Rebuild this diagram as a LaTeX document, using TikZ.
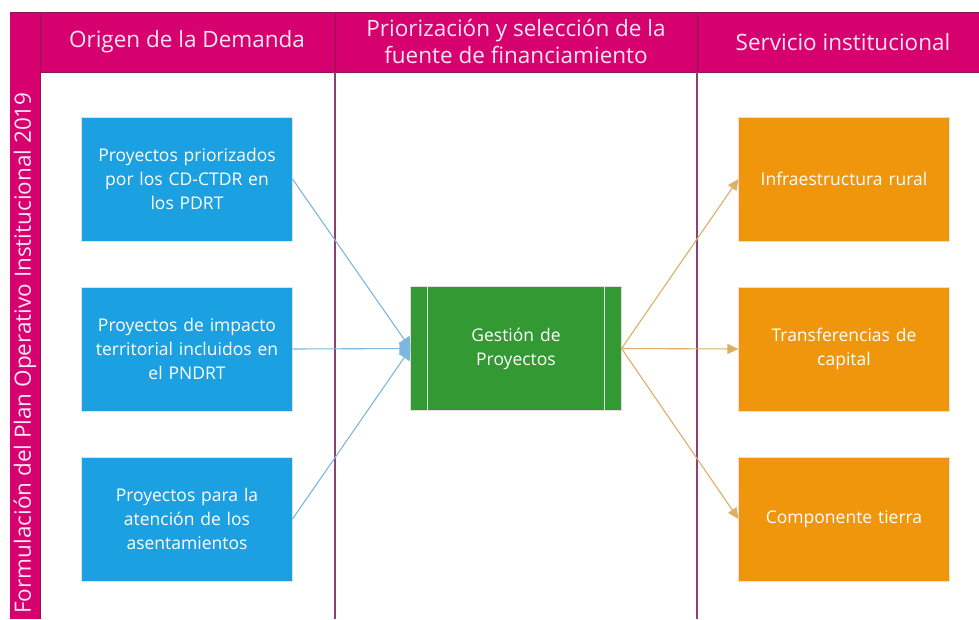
\documentclass[tikz,border=0pt]{standalone}
\usepackage{fontspec}
\setmainfont{Open Sans}
\usetikzlibrary{arrows.meta}
\definecolor{hdr}{HTML}{D6006F}
\definecolor{hdrline}{HTML}{8A1A55}
\definecolor{laneline}{HTML}{8E3F74}
\definecolor{demblue}{HTML}{1BA1E2}
\definecolor{procgreen}{HTML}{339933}
\definecolor{servorange}{HTML}{F0960C}
\definecolor{bluearrow}{HTML}{7DB8DC}
\definecolor{orangearrow}{HTML}{DFAE66}
\tikzset{
  demandbox/.style={fill=demblue, draw=black!12, text=white, minimum width=208pt, minimum height=124pt, text width=204pt, align=center, font=\fontsize{17.5}{24}\selectfont},
  servicebox/.style={demandbox, fill=servorange},
  processbox/.style={demandbox, fill=procgreen},
  headertext/.style={text=white!90!hdr, align=center, font=\fontsize{22.5}{27}\selectfont},
  demandarrow/.style={bluearrow, line width=1.1pt, -{Triangle[length=11pt,width=13pt]}},
  servicearrow/.style={orangearrow, line width=1.1pt, -{Triangle[length=11pt,width=10pt]}}
}
\begin{document}
\begin{tikzpicture}[x=1pt,y=-1pt]
    \useasboundingbox (0,0) rectangle (979,619);
    \fill[white] (0,0) rectangle (979,619);
    % header band and side band
    \fill[hdr] (10,12) rectangle (979,72);
    \fill[hdr] (10,12) rectangle (40,619);
    \draw[hdrline, line width=1pt] (10,12.5) -- (979,12.5);
    \draw[hdrline, line width=1pt] (40,72) -- (979,72);
    \draw[hdrline, line width=1pt] (40,12) -- (40,619);
    \draw[hdrline, line width=1pt] (335,12) -- (335,72);
    \draw[hdrline, line width=1pt] (697,12) -- (697,72);
    % lanes
    \draw[laneline, line width=1.2pt] (335,72) -- (335,619);
    \draw[laneline, line width=1.2pt] (697,72) -- (697,619);
    \node[headertext, rotate=90] (plan) at (25,353) {Formulación del Plan Operativo Institucional 2019};
    \node[headertext] (origen) at (187,42) {Origen de la Demanda};
    \node[headertext] (priorizacion) at (516,41) {Priorización y selección de la\\fuente de financiamiento};
    \node[headertext] (servicio) at (843,42) {Servicio institucional};
    % origin of demand
    \node[demandbox] (pdrt) at (187,179) {Proyectos priorizados\\por los CD-CTDR en\\los PDRT};
    \node[demandbox] (pndrt) at (187,349) {Proyectos de impacto\\territorial incluidos en\\el PNDRT};
    \node[demandbox] (asent) at (187,519) {Proyectos para la\\atención de los\\asentamientos};
    % process
    \node[processbox] (gestion) at (516,348.5) {Gestión de\\Proyectos};
    \draw[white!80!procgreen, line width=1.3pt] ([xshift=17pt]gestion.north west) -- ([xshift=17pt]gestion.south west);
    \draw[white!80!procgreen, line width=1.3pt] ([xshift=-17pt]gestion.north east) -- ([xshift=-17pt]gestion.south east);
    % services
    \node[servicebox] (infra) at (844,179) {Infraestructura rural};
    \node[servicebox] (capital) at (844,349) {Transferencias de\\capital};
    \node[servicebox] (tierra) at (844,519) {Componente tierra};
    % connectors
    \draw[demandarrow] (pdrt.east) -- (gestion.west);
    \draw[demandarrow] (pndrt.east) -- (gestion.west);
    \draw[demandarrow] (asent.east) -- (gestion.west);
    \draw[servicearrow] (gestion.east) -- (infra.west);
    \draw[servicearrow] (gestion.east) -- (capital.west);
    \draw[servicearrow] (gestion.east) -- (tierra.west);
\end{tikzpicture}
\end{document}
